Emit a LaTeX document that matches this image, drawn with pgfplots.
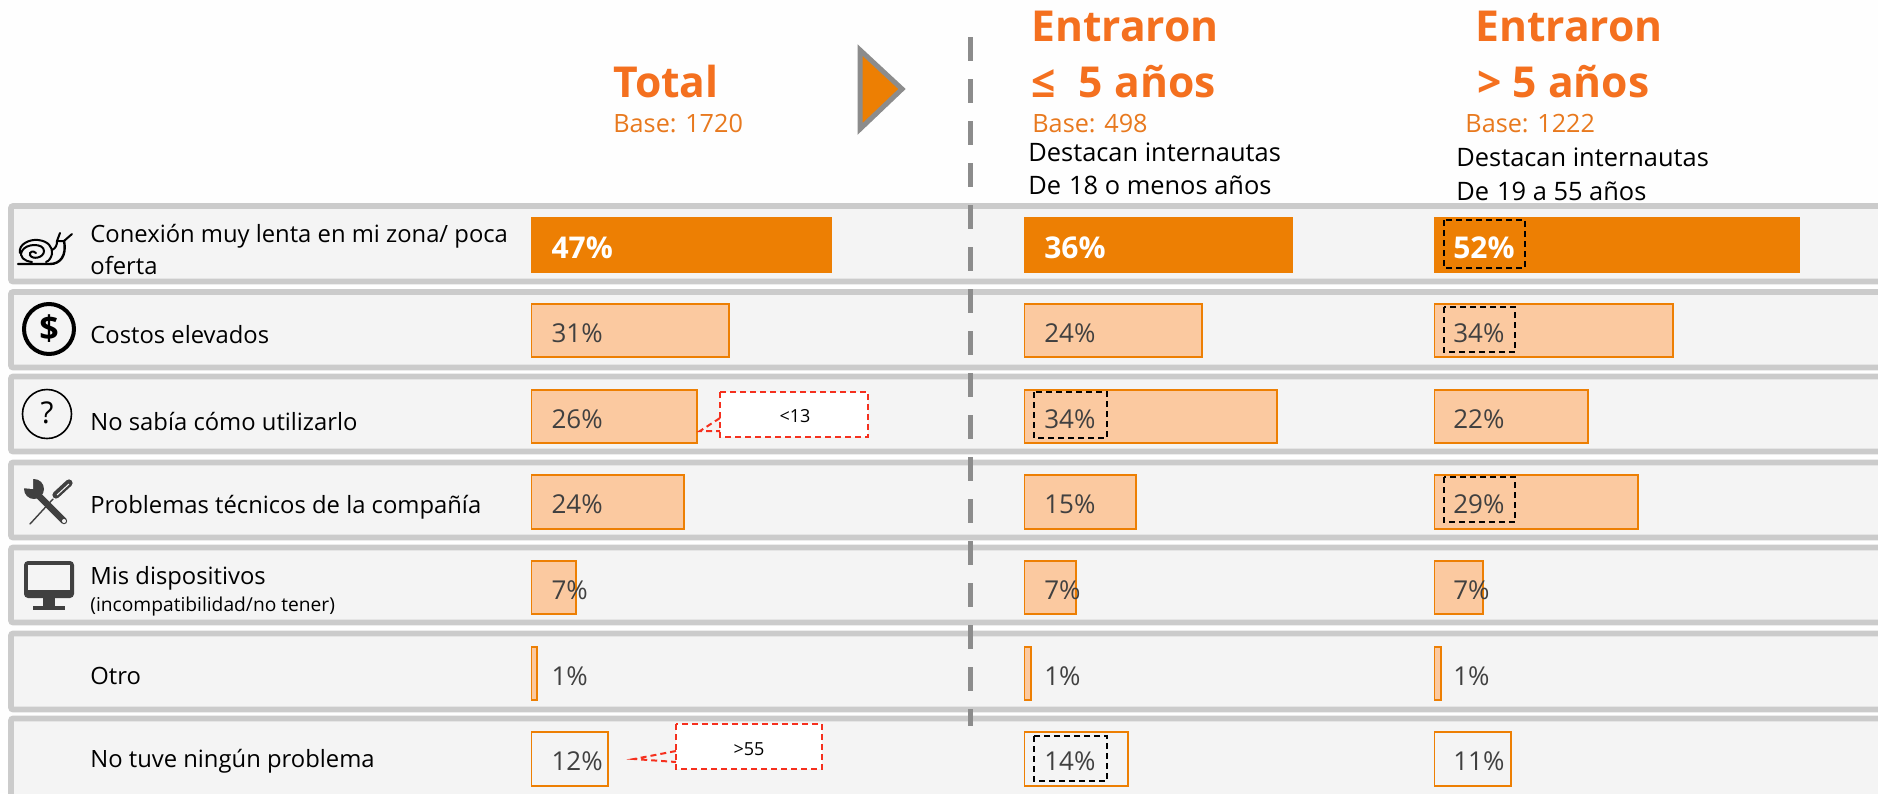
\documentclass[border=0pt]{standalone}
\usepackage{pgfplots}
\usepackage{pgfplotstable}
\usepackage{fontspec}
\pgfplotsset{compat=1.18}
\setmainfont{Open Sans}
\definecolor{barO}{HTML}{ED7F03}
\definecolor{barL}{HTML}{FBC9A0}
\definecolor{titleO}{HTML}{F4701F}
\definecolor{baseO}{HTML}{E8791E}
\definecolor{rowbg}{HTML}{F4F4F4}
\definecolor{rowln}{HTML}{CBCBCB}
\definecolor{dgray}{HTML}{8C8C8C}
\definecolor{valc}{HTML}{404040}
\definecolor{redd}{HTML}{F5301E}
\definecolor{nearw}{HTML}{FEFEFE}
\newcommand\fs[1]{\fontsize{#1}{#1}\selectfont}
\pgfplotstableread{
row val
1 47
2 31
3 26
4 24
5 7
6 1
7 12
}\tblTotal
\pgfplotstableread{
row val
1 36
2 24
3 34
4 15
5 7
6 1
7 14
}\tblNew
\pgfplotstableread{
row val
1 52
2 34
3 22
4 29
5 7
6 1
7 11
}\tblOld
\pgfplotsset{
 pixelaxis/.style={hide axis,scale only axis,width=939pt,height=396.5pt,
   xmin=0,xmax=1878,ymin=0,ymax=793,y dir=reverse,at={(0pt,0pt)},anchor=south west},
 paneaxis/.style={hide axis,scale only axis,height=396.5pt,xmin=0,xmax=60,
   ymin=-1.860,ymax=7.397,y dir=reverse,anchor=south west},
 hbar/.style={xbar,bar shift=0pt,bar width=26.6pt,line width=1pt,forget plot},
 vlabel/.style={draw=none,mark=none,forget plot,point meta=\thisrow{val},
   nodes near coords={\pgfmathprintnumber[assume math mode=true]{\pgfplotspointmeta}\%},
   nodes near coords style={anchor=west,inner sep=0pt,yshift=-1.2pt,/pgf/number format/assume math mode=true}},
}
\newcommand\panelbars[2]{%
 \addplot[hbar,draw=barO,fill=barO,restrict y to domain=1:1] table[x=val,y=row]{#1};
 \addplot[hbar,draw=barO,fill=barL,restrict y to domain=2:6] table[x=val,y=row]{#1};
 \addplot[hbar,draw=barO,fill=none,restrict y to domain=7:7] table[x=val,y=row]{#1};
 \addplot[vlabel,nodes near coords style={text=white,font=\fs{15}\bfseries},restrict y to domain=1:1] table[x expr=#2,y=row]{#1};
 \addplot[vlabel,nodes near coords style={text=valc,font=\fs{13}},restrict y to domain=2:7] table[x expr=#2,y=row]{#1};
}
\begin{document}
\begin{tikzpicture}
\begin{axis}[pixelaxis]
\fill[nearw] (axis cs:0,0) rectangle (axis cs:1878,793);
\foreach \a/\b in {206/281.5,292/367.5,376.5/451.5,462.5/537.5,547.5/622.5,633.5/709.5,718.5/800}{
 \edef\tmp{\noexpand\draw[fill=rowbg,draw=rowln,line width=2.8pt,rounded corners=1pt] (axis cs:11,\a) rectangle (axis cs:1900,\b);}\tmp
}
% header
\node[anchor=base west,inner sep=0,text=titleO,font=\fs{21.3}\bfseries] at (axis cs:613,97) {Total};
\node[anchor=base west,inner sep=0,text=baseO,font=\fs{12.6}] at (axis cs:613,132) {Base: 1720};
\node[anchor=base west,inner sep=0,text=titleO,font=\fs{21.3}\bfseries] at (axis cs:1031,41) {Entraron};
\node[anchor=base west,inner sep=0,text=titleO,font=\fs{21.3}\bfseries] at (axis cs:1031,97) {≤\hspace{11.6pt}5 años};
\node[anchor=base west,inner sep=0,text=baseO,font=\fs{12.6}] at (axis cs:1032,132) {Base: 498};
\node[anchor=base west,inner sep=0,font=\fs{12.7}] at (axis cs:1028,161) {Destacan internautas};
\node[anchor=base west,inner sep=0,font=\fs{12.7}] at (axis cs:1028,194) {De\hspace{4pt}18 o menos años};
\node[anchor=base west,inner sep=0,text=titleO,font=\fs{21.3}\bfseries] at (axis cs:1475,41) {Entraron};
\node[anchor=base west,inner sep=0,text=titleO,font=\fs{21.3}\bfseries] at (axis cs:1477,97) {> 5 años};
\node[anchor=base west,inner sep=0,text=baseO,font=\fs{12.6}] at (axis cs:1465,132) {Base: 1222};
\node[anchor=base west,inner sep=0,font=\fs{12.7}] at (axis cs:1456,166) {Destacan internautas};
\node[anchor=base west,inner sep=0,font=\fs{12.7}] at (axis cs:1456,200) {De\hspace{4pt}19 a 55 años};
\draw[fill=barO,draw=dgray,line width=2.5pt,line join=miter] (axis cs:860,50) -- (axis cs:902,89) -- (axis cs:860,129) -- cycle;
% row labels
\node[anchor=base west,inner sep=0,font=\fs{11.9}] at (axis cs:90,242) {Conexión muy lenta en mi zona/ poca};
\node[anchor=base west,inner sep=0,font=\fs{11.9}] at (axis cs:90,274) {oferta};
\node[anchor=base west,inner sep=0,font=\fs{11.9}] at (axis cs:90,343) {Costos elevados};
\node[anchor=base west,inner sep=0,font=\fs{11.9}] at (axis cs:90,430) {No sabía cómo utilizarlo};
\node[anchor=base west,inner sep=0,font=\fs{11.9}] at (axis cs:90,513) {Problemas técnicos de la compañía};
\node[anchor=base west,inner sep=0,font=\fs{11.9}] at (axis cs:90,584) {Mis dispositivos};
\node[anchor=base west,inner sep=0,font=\fs{9.6}] at (axis cs:90,611) {(incompatibilidad/no tener)};
\node[anchor=base west,inner sep=0,font=\fs{11.9}] at (axis cs:90,684) {Otro};
\node[anchor=base west,inner sep=0,font=\fs{11.9}] at (axis cs:90,767) {No tuve ningún problema};
% snail
\draw[line width=1pt,black,line cap=round] (axis cs:36,253) .. controls (axis cs:33,250) and (axis cs:29,252) .. (axis cs:30,255) .. controls (axis cs:32,260) and (axis cs:44,258) .. (axis cs:44,251) .. controls (axis cs:44,243) and (axis cs:26,243) .. (axis cs:22,251) .. controls (axis cs:19,257) and (axis cs:24,261) .. (axis cs:32,262);
\draw[line width=1pt,black,line cap=round] (axis cs:20,253) .. controls (axis cs:18,244) and (axis cs:30,239) .. (axis cs:38,240) .. controls (axis cs:48,241) and (axis cs:53,247) .. (axis cs:52,254) .. controls (axis cs:51,258) and (axis cs:49,261) .. (axis cs:46,262);
\draw[line width=1.2pt,black,line cap=round] (axis cs:18,264) -- (axis cs:50,264) .. controls (axis cs:60,264) and (axis cs:67,256) .. (axis cs:64,241);
\draw[line width=1pt,black,line cap=round] (axis cs:52,250) .. controls (axis cs:56,248) and (axis cs:57,245) .. (axis cs:57,241) -- (axis cs:60,233);
\draw[line width=1pt,black,line cap=round] (axis cs:57,241) -- (axis cs:64,241) -- (axis cs:72,234);
% dollar, question
\draw[line width=2pt,black,fill=rowbg] (axis cs:49,329) circle[radius=25];
\node[font=\fs{17}\bfseries] at (axis cs:49,329) {\$};
\draw[line width=0.8pt,black] (axis cs:47,414) circle[radius=24.5];
\node[font=\fs{15}] at (axis cs:47,413) {?};
% screwdriver
\draw[line width=0.7pt,valc,line cap=round] (axis cs:53,499) -- (axis cs:30,524);
\draw[line width=3.6pt,valc,line cap=round] (axis cs:56,495) -- (axis cs:69,483);
\draw[line width=0.5pt,rowbg] (axis cs:57,495) -- (axis cs:69,484);
% wrench
\draw[line width=3.2pt,valc,line cap=round] (axis cs:36,493) -- (axis cs:64,521);
\fill[valc] (axis cs:34,489) circle[radius=10];
\fill[rowbg] (axis cs:33,489) -- (axis cs:21,488) -- (axis cs:19,476) -- (axis cs:33,477) -- cycle;
\fill[rowbg] (axis cs:64,521) circle[radius=2];
% monitor
\draw[fill=valc,draw=none,rounded corners=2pt] (axis cs:24,561) rectangle (axis cs:74,598);
\draw[fill=rowbg,draw=none] (axis cs:28,565) rectangle (axis cs:70,590);
\draw[fill=valc,draw=none] (axis cs:43,598) rectangle (axis cs:55,606);
\draw[fill=valc,draw=none] (axis cs:33,606) rectangle (axis cs:65,610);
% dashed divider
\draw[dgray,line width=2.5pt,dash pattern=on 12pt off 9pt] (axis cs:970,37) -- (axis cs:970,726);
\end{axis}
% bars
\begin{axis}[paneaxis,at={(265.5pt,0pt)},width=191.5pt]
\panelbars{\tblTotal}{3.15}
\end{axis}
\begin{axis}[paneaxis,at={(512pt,0pt)},width=223pt]
\panelbars{\tblNew}{2.67}
\end{axis}
\begin{axis}[paneaxis,at={(717pt,0pt)},width=210.5pt]
\panelbars{\tblOld}{2.7}
\end{axis}
% overlays
\begin{axis}[pixelaxis]
\draw[redd,fill=white,line width=1pt,dash pattern=on 3pt off 2pt] (axis cs:720,392) rectangle (axis cs:868,437);
\draw[redd,line width=1pt,dash pattern=on 3pt off 2pt] (axis cs:720,418) -- (axis cs:700,431) -- (axis cs:720,431);
\node[font=\fs{9}] at (axis cs:795,416) {<13};
\draw[redd,fill=white,line width=1pt,dash pattern=on 3pt off 2pt] (axis cs:676,724) rectangle (axis cs:822,769);
\draw[redd,line width=1pt,dash pattern=on 3pt off 2pt] (axis cs:676,751) -- (axis cs:634,759) -- (axis cs:676,762);
\node[font=\fs{9}] at (axis cs:749,749) {>55};
\foreach \x/\y/\X/\Y in {1444/220/1525/268,1444/307/1515/352,1034/392/1107/438,1444/477/1515/522,1034/736/1107/781}{
 \edef\tmp{\noexpand\draw[black,line width=0.9pt,dash pattern=on 3pt off 2pt] (axis cs:\x,\y) rectangle (axis cs:\X,\Y);}\tmp
}
\end{axis}
\end{tikzpicture}
\end{document}
